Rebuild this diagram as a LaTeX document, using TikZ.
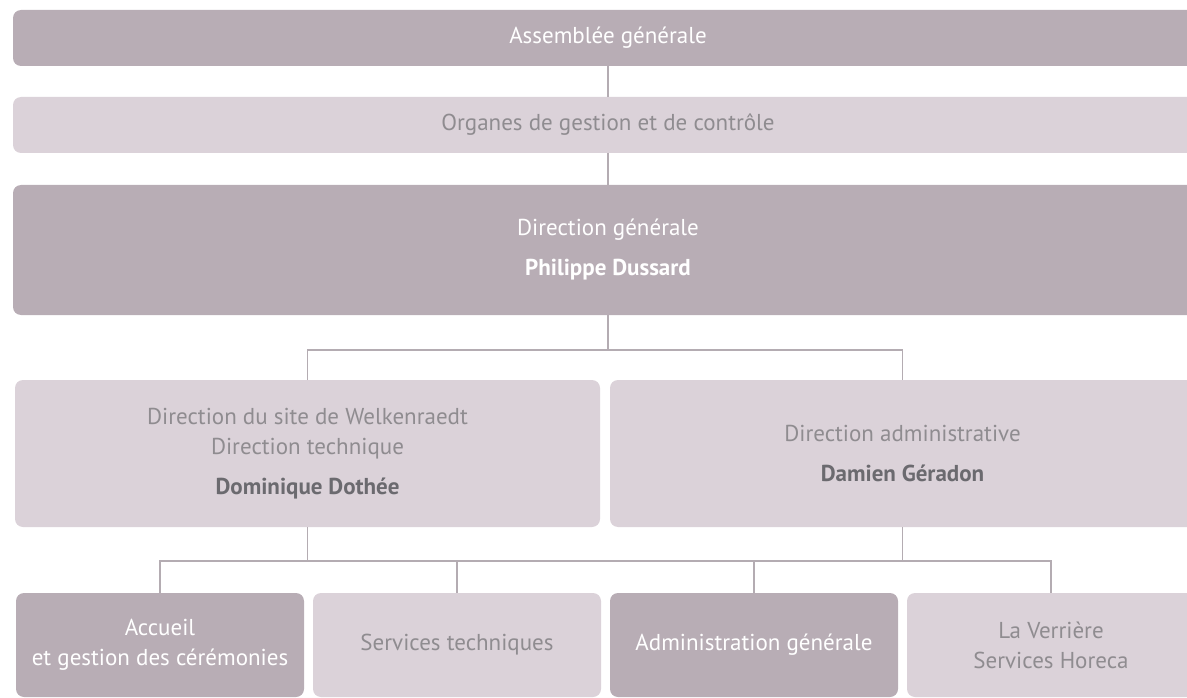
\documentclass[tikz,border=0pt]{standalone}
\usepackage{fontspec}
\setmainfont{PT Sans}
\usepackage{tikz}
\usetikzlibrary{positioning,calc}

\definecolor{boxdark}{HTML}{B8ADB5}
\definecolor{boxlight}{HTML}{DBD2D9}
\definecolor{linegrey}{HTML}{B4ACB2}
\definecolor{textgrey}{HTML}{8F8C90}
\definecolor{namegrey}{HTML}{6B6A6F}

\begin{document}
\begin{tikzpicture}[
            x=1pt, y=-1pt,
            node distance=9pt,
            outer sep=0pt,
            % Style des boites foncees
            darkbox/.style={
                fill=boxdark,
                rounded corners=8pt,
                inner sep=0pt,
                align=center,
                text=white,
                font=\fontsize{23}{30}\selectfont
            },
            % Style des boites claires
            lightbox/.style={
                darkbox,
                fill=boxlight,
                text=textgrey
            },
            % Style des traits de liaison
            conn/.style={
                draw=linegrey,
                line width=1.2pt
            }
        ]
            \useasboundingbox (0,0) rectangle (1187,698);
            \clip (0,0) rectangle (1187,698);

            % NIVEAU 1 ET 2: BANDES PLEINE LARGEUR
            \node[darkbox, minimum width=1190pt, minimum height=56pt] (ag) at (608,38) {Assemblée générale};
            \node[lightbox, minimum width=1190pt, minimum height=56pt] (org) at (608,125) {Organes de gestion et de contrôle};
            \node[darkbox, minimum width=1190pt, minimum height=130pt] (dg) at (608,250)
                {Direction générale\\[10pt]\textbf{Philippe Dussard}};

            % NIVEAU 3: DEUX DIRECTIONS
            \node[lightbox, minimum width=585pt, minimum height=147pt] (site) at (307.5,453.5)
                {Direction du site de Welkenraedt\\Direction technique\\[10pt]\textcolor{namegrey}{\textbf{Dominique Dothée}}};
            \node[lightbox, minimum width=585pt, minimum height=147pt, right=10pt of site] (adm)
                {Direction administrative\\[10pt]\textcolor{namegrey}{\textbf{Damien Géradon}}};

            % NIVEAU 4: SERVICES
            \node[darkbox, minimum width=288pt, minimum height=104pt] (acc) at (160,645)
                {Accueil\\et gestion des cérémonies};
            \node[lightbox, minimum width=288pt, minimum height=104pt, right=of acc] (tech) {Services techniques};
            \node[darkbox, minimum width=288pt, minimum height=104pt, right=of tech] (admg) {Administration générale};
            \node[lightbox, minimum width=288pt, minimum height=104pt, right=of admg] (ver)
                {La Verrière\\Services Horeca};

            % LIAISONS VERTICALES DU HAUT
            \draw[conn] (ag.south) -- (org.north);
            \draw[conn] (org.south) -- (dg.north);

            % BRANCHE VERS LES DEUX DIRECTIONS
            \coordinate (j1) at ($(dg.south)+(0,35)$);
            \draw[conn] (dg.south) -- (j1);
            \draw[conn] (site.north) |- (j1) -| (adm.north);

            % BRANCHE VERS LES SERVICES
            \coordinate (j2) at ($(site.south)+(0,34)$);
            \draw[conn] (site.south) -- (j2);
            \draw[conn] (adm.south) -- (adm.south |- j2);
            \draw[conn] (acc.north) |- (ver.north |- j2) -- (ver.north);
            \draw[conn] (tech.north) -- (tech.north |- j2);
            \draw[conn] (admg.north) -- (admg.north |- j2);

        \end{tikzpicture}
\end{document}
